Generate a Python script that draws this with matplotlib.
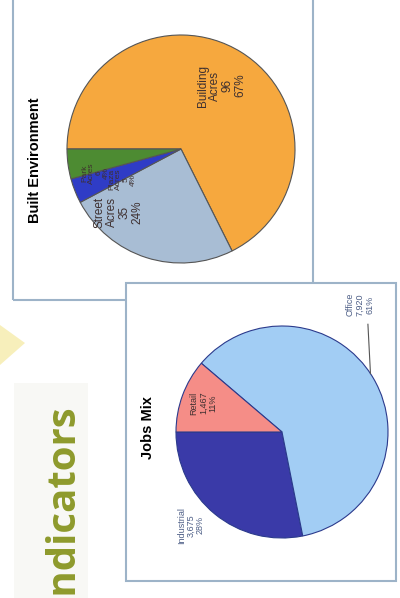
import numpy as np
import matplotlib
matplotlib.use("Agg")
import matplotlib.pyplot as plt
from matplotlib.patches import Rectangle, Polygon

# Built Environment pie (acres)
env_labels = ["Building\nAcres\n96\n67%", "Street\nAcres\n35\n24%",
              "Plaza\nAcres\n5\n4%", "Park\nAcres\n6\n4%"]
env_values = [96, 35, 5, 6]
env_colors = ["#F6A83E", "#A8BDD4", "#2F3CC6", "#4D8B32"]

# Jobs Mix pie (jobs)
jobs_labels = ["Industrial\n3,675\n28%", "Office\n7,920\n61%", "Retail\n1,467\n11%"]
jobs_values = [3675, 7920, 1467]
jobs_colors = ["#3A3AA8", "#A2CDF4", "#F58D87"]

W, H = 400, 598
fig = plt.figure(figsize=(W / 100, H / 100), dpi=100)
ax = fig.add_axes([0, 0, 1, 1])
ax.set_axis_off()

font = "Liberation Sans"

# panel frames (pixel space, y up)
ax.add_patch(Rectangle((13, H - 300), 300, 305, fill=False, ec="#9DB3C8", lw=1.5))
ax.add_patch(Rectangle((126, H - 581), 270, 298, fc="white", ec="#9DB3C8", lw=1.5, zorder=2))

# faint page decoration
ax.add_patch(Rectangle((14, 0), 74, H - 383, fc="#F8F8F5", ec="none", zorder=0))
ax.add_patch(Polygon([(0, H - 325), (0, H - 365), (25, H - 343)], closed=True,
                     fc="#F3E58E", ec="none", alpha=0.6))
ax.text(42, H - 403, "Indicators", rotation=90, ha="left", va="top",
        fontsize=29, fontweight="bold", family="Open Sans", color="#8E9A2C")

# --- Built Environment ---
env_c, env_r = (181, H - 149), 114
wedges, _ = ax.pie(env_values, colors=env_colors, startangle=180, counterclock=False,
                   center=env_c, radius=env_r,
                   wedgeprops=dict(edgecolor="#555555", linewidth=0.8))
# label placement: (radius fraction, angle shift from wedge middle)
env_pos = [(0.66, -1), (0.78, -27), (0.58, 6), (0.78, 8)]
env_size = [8.5, 8.5, 6, 6]
for w, lab, (rf, dth), fs in zip(wedges, env_labels, env_pos, env_size):
    ang = np.deg2rad((w.theta1 + w.theta2) / 2 + dth)
    ax.text(env_c[0] + rf * env_r * np.cos(ang), env_c[1] + rf * env_r * np.sin(ang),
            lab, rotation=90, ha="center", va="center", fontsize=fs,
            family=font, color="#3E3030", linespacing=1.05, zorder=3)
ax.text(35, H - 160, "Built Environment", rotation=90, ha="center", va="center",
        fontsize=10.5, fontweight="bold", family=font, color="black")

# --- Jobs Mix ---
jobs_c, jobs_r = (282, H - 432), 106
wedges, _ = ax.pie(jobs_values, colors=jobs_colors, startangle=180, counterclock=True,
                   center=jobs_c, radius=jobs_r,
                   wedgeprops=dict(edgecolor="#2B3A8C", linewidth=0.8, zorder=3))
jobs_pos = [(1.23, -5), (1.41, 28), (0.79, 0)]
jobs_col = ["#4D5E86", "#4D5E86", "#3E3030"]
for w, lab, (rf, dth), col in zip(wedges, jobs_labels, jobs_pos, jobs_col):
    ang = np.deg2rad((w.theta1 + w.theta2) / 2 + dth)
    ax.text(jobs_c[0] + rf * jobs_r * np.cos(ang), jobs_c[1] + rf * jobs_r * np.sin(ang),
            lab, rotation=90, ha="center", va="center", fontsize=6.5,
            family=font, color=col, linespacing=1.1, zorder=4)
# leader line for Office
w = wedges[1]
mid = (w.theta1 + w.theta2) / 2
a0, a1 = np.deg2rad(mid + 3), np.deg2rad(mid + 21)
ax.plot([jobs_c[0] + 1.0 * jobs_r * np.cos(a0), jobs_c[0] + 1.3 * jobs_r * np.cos(a1)],
        [jobs_c[1] + 1.0 * jobs_r * np.sin(a0), jobs_c[1] + 1.3 * jobs_r * np.sin(a1)],
        color="#555555", lw=0.8, zorder=4)
ax.text(148, H - 428, "Jobs Mix", rotation=90, ha="center", va="center",
        fontsize=10.5, fontweight="bold", family=font, color="black", zorder=4)

ax.set_xlim(0, W)
ax.set_ylim(0, H)
fig.savefig("out.png", dpi=100)
